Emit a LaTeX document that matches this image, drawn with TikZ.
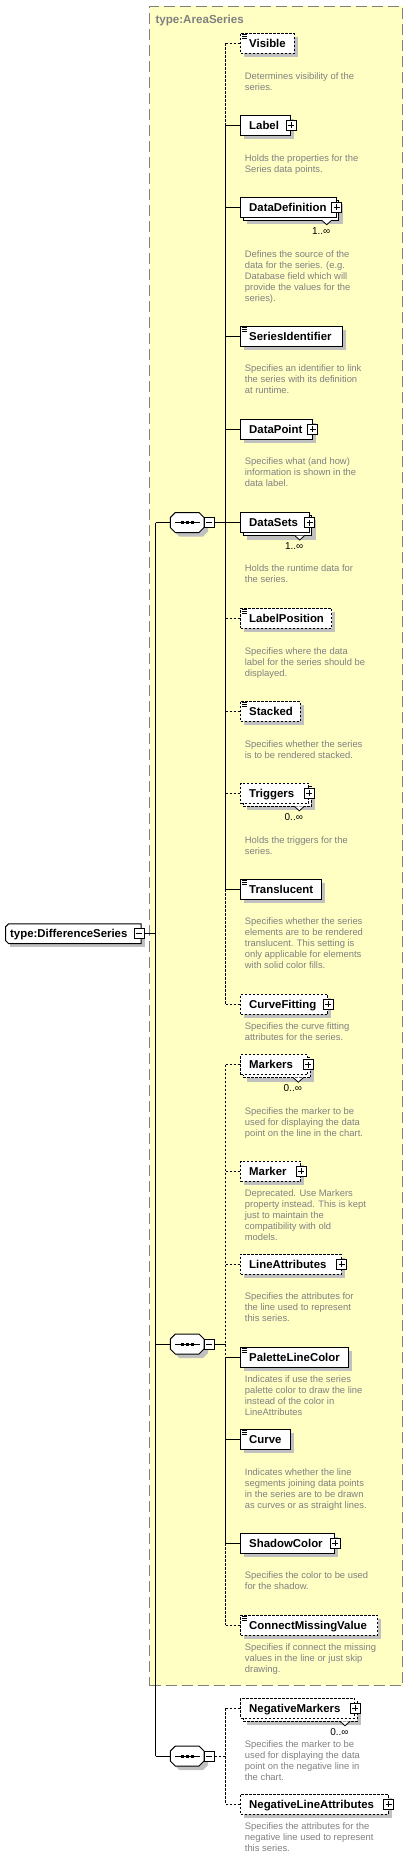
\documentclass[tikz,border=0pt]{standalone}
\usepackage{fontspec}
\setmainfont{Liberation Sans}
\pgfdeclarelayer{back}
\pgfdeclarelayer{bg}
\pgfsetlayers{back,bg,main}
\definecolor{yel}{HTML}{FFFFC4}
\definecolor{shd}{HTML}{C0C0C0}
\definecolor{dgray}{HTML}{808080}
\tikzset{
  dsh/.style={dash pattern=on 2.5pt off 1.5pt},
  sld/.style={},
  conn/.style={line width=1pt, draw=black},
  elem/.style={draw=black, fill=white, line width=1pt, minimum height=20pt, inner sep=0pt},
  eltext/.style={font=\fontsize{11.4}{13}\selectfont\bfseries, inner sep=0pt},
  titletext/.style={font=\fontsize{11.6}{13}\selectfont\bfseries, text=dgray, inner sep=0pt},
  desc/.style={font=\fontsize{9.4}{11}\selectfont, text=dgray, align=left, inner sep=0pt},
  mult/.style={font=\fontsize{10}{12}\selectfont, inner sep=0pt},
  pbox/.style={draw=black, fill=white, line width=0.8pt, minimum size=10pt, inner sep=0pt,
    path picture={\draw[line width=0.8pt] ([xshift=2pt]path picture bounding box.west) -- ([xshift=-2pt]path picture bounding box.east)
      ([yshift=-2pt]path picture bounding box.north) -- ([yshift=2pt]path picture bounding box.south);}},
  mbox/.style={draw=black, fill=white, line width=0.8pt, minimum size=10pt, inner sep=0pt,
    path picture={\draw[line width=0.8pt] ([xshift=2pt]path picture bounding box.west) -- ([xshift=-2pt]path picture bounding box.east);}},
}
% element box: name, yc, right x, text, border style
\newcommand\elbox[5]{%
  \begin{pgfonlayer}{bg}
    \fill[shd] (244,#2-6) rectangle (#3+4,#2+14);
  \end{pgfonlayer}
  \node[elem,#5,minimum width={#3-240},anchor=west] (#1) at (240,#2) {};
  \node[eltext,anchor=base west] (#1t) at (249,#2+4.05) {#4};
}
% multiple element: name, yc, right x, text, border style, multiplicity
\newcommand\elmulti[6]{%
  \begin{pgfonlayer}{bg}
    \fill[shd] (247,#2-3) rectangle (#3+7,#2+17);
    \draw[fill=white,line width=1pt,#5] (243,#2-7) rectangle (#3+3,#2+13);
    \draw[fill=white,line width=0.8pt] (#3-14,#2+13) -- (#3-9,#2+17.5) -- (#3-4,#2+13);
  \end{pgfonlayer}
  \node[elem,#5,minimum width={#3-240},anchor=west] (#1) at (240,#2) {};
  \node[eltext,anchor=base west] (#1t) at (249,#2+4.05) {#4};
  \node[mult,anchor=base] (#1n) at (#3-14.5,#2+27) {#6};
}
\newcommand\plusb[1]{\node[pbox] (#1p) at (#1.east) {};}
\newcommand\simp[1]{%
  \draw[line width=0.8pt] ([shift={(2,1.6)}]#1.north west) -- ++(5,0)
    ([shift={(2,3.6)}]#1.north west) -- ++(5,0)
    ([shift={(2,5.6)}]#1.north west) -- ++(5,0);}
\newcommand\dsc[3]{\node[desc,anchor=north west] (#1) at (244.7,#2-3.6) {#3};}
% sequence compositor: name, yc
\newcommand\seqc[2]{%
  \begin{pgfonlayer}{bg}
    \fill[shd] (179.3,#2-6) -- (203,#2-6) -- (208,#2-1) -- (208,#2+9) -- (203,#2+14) -- (179.3,#2+14) -- (174.3,#2+9) -- (174.3,#2-1) -- cycle;
  \end{pgfonlayer}
  \node[minimum width=33.7pt, minimum height=20pt, inner sep=0pt] (#1) at (187.15,#2) {};
  \draw[fill=white,line width=1pt] (175.3,#2-10) -- (199,#2-10) -- (204,#2-5) -- (204,#2+5) -- (199,#2+10) -- (175.3,#2+10) -- (170.3,#2+5) -- (170.3,#2-5) -- cycle;
  \draw[line width=1pt] (175,#2) -- (200,#2);
  \foreach \xx in {182.6,187.3,192} \fill (\xx-1.5,#2-1.5) rectangle (\xx+1.5,#2+1.5);
  \node[mbox] (#1m) at (209.3,#2) {};
}
\begin{document}
\begin{tikzpicture}[x=1pt,y=-1pt]
\useasboundingbox (0,0) rectangle (408,1869);
\begin{pgfonlayer}{back}
  \node[draw=dgray, fill=yel, line width=1pt, dash pattern=on 11pt off 5pt, minimum width=253pt, minimum height=1679.3pt, inner sep=0pt, anchor=north west] (area) at (149.3,5.7) {};
\end{pgfonlayer}
\node[titletext,anchor=base west] (ttl) at (155.3,23.1) {type:AreaSeries};

% root type
\begin{pgfonlayer}{bg}
  \fill[shd] (9.7,928) rectangle (145,947.3);
\end{pgfonlayer}
\node[minimum width=135.3pt, minimum height=19.3pt, inner sep=0pt] (dsr) at (73.35,933.65) {};
\draw[fill=white,line width=1pt] ([xshift=3pt]dsr.north west) -- (dsr.north east) -- (dsr.south east) -- ([xshift=3pt]dsr.south west) -- ([yshift=3pt]dsr.south west) -- ([yshift=-3pt]dsr.north west) -- cycle;
\node[eltext,anchor=base west] (dsrt) at (10,937.7) {type:DifferenceSeries};
\node[mbox] (dsrm) at (139.3,933.65) {};

% compositors
\seqc{s1}{522.5}
\seqc{s2}{1344}
\seqc{s3}{1756}

% elements
\elbox{vis}{43.3}{293.7}{Visible}{dsh} \simp{vis}
\dsc{visd}{75.7}{Determines visibility of the\\series.}
\elbox{lab}{125.3}{290.3}{Label}{sld} \plusb{lab}
\dsc{labd}{157.7}{Holds the properties for the\\Series data points.}
\elmulti{ddef}{207.2}{335.7}{DataDefinition}{sld}{1..∞} \plusb{ddef}
\dsc{ddefd}{253.7}{Defines the source of the\\data for the series. (e.g.\\Database field which will\\provide the values for the\\series).}
\elbox{sid}{336.3}{341.7}{SeriesIdentifier}{sld} \simp{sid}
\dsc{sidd}{368.3}{Specifies an identifier to link\\the series with its definition\\at runtime.}
\elbox{dpt}{429.3}{311.7}{DataPoint}{sld} \plusb{dpt}
\dsc{dptd}{461.3}{Specifies what (and how)\\information is shown in the\\data label.}
\elmulti{dsets}{522.5}{308.7}{DataSets}{sld}{1..∞} \plusb{dsets}
\dsc{dsetsd}{568.3}{Holds the runtime data for\\the series.}
\elbox{lpos}{618.3}{331}{LabelPosition}{dsh} \simp{lpos}
\dsc{lposd}{650.7}{Specifies where the data\\label for the series should be\\displayed.}
\elbox{stk}{711.3}{299.7}{Stacked}{dsh} \simp{stk}
\dsc{stkd}{743.7}{Specifies whether the series\\is to be rendered stacked.}
\elmulti{trg}{793.3}{308.3}{Triggers}{dsh}{0..∞} \plusb{trg}
\dsc{trgd}{839.7}{Holds the triggers for the\\series.}
\elbox{trl}{889.3}{321.3}{Translucent}{sld} \simp{trl}
\dsc{trld}{921.3}{Specifies whether the series\\elements are to be rendered\\translucent. This setting is\\only applicable for elements\\with solid color fills.}
\elbox{cfit}{1004.3}{327.3}{CurveFitting}{dsh} \plusb{cfit}
\dsc{cfitd}{1026}{Specifies the curve fitting\\attributes for the series.}
\elmulti{mks}{1064.7}{307.3}{Markers}{dsh}{0..∞} \plusb{mks}
\dsc{mksd}{1111}{Specifies the marker to be\\used for displaying the data\\point on the line in the chart.}
\elbox{mk}{1171.3}{300.3}{Marker}{dsh} \plusb{mk}
\dsc{mkd}{1192.7}{Deprecated. Use Markers\\property instead. This is kept\\just to maintain the\\compatibility with old\\models.}
\elbox{latt}{1264.3}{340.7}{LineAttributes}{dsh} \plusb{latt}
\dsc{lattd}{1296.3}{Specifies the attributes for\\the line used to represent\\this series.}
\elbox{plc}{1357.3}{347.7}{PaletteLineColor}{sld} \simp{plc}
\dsc{plcd}{1378.7}{Indicates if use the series\\palette color to draw the line\\instead of the color in\\LineAttributes}
\elbox{crv}{1439.3}{289.7}{Curve}{sld} \simp{crv}
\dsc{crvd}{1471.7}{Indicates whether the line\\segments joining data points\\in the series are to be drawn\\as curves or as straight lines.}
\elbox{shc}{1543.3}{334.3}{ShadowColor}{sld} \plusb{shc}
\dsc{shcd}{1575.3}{Specifies the color to be used\\for the shadow.}
\elbox{cmv}{1625.3}{377}{ConnectMissingValue}{dsh} \simp{cmv}
\dsc{cmvd}{1646.7}{Specifies if connect the missing\\values in the line or just skip\\drawing.}
\elmulti{nmk}{1708.3}{354}{NegativeMarkers}{dsh}{0..∞} \plusb{nmk}
\dsc{nmkd}{1743.7}{Specifies the marker to be\\used for displaying the data\\point on the negative line in\\the chart.}
\elbox{nla}{1804}{387.7}{NegativeLineAttributes}{dsh} \plusb{nla}
\dsc{nlad}{1825.7}{Specifies the attributes for the\\negative line used to represent\\this series.}

% connectors
\coordinate (trunk) at (155.7,0);
\coordinate (bus) at (225.7,0);
\draw[conn] (dsrm.east) -- (trunk |- dsrm.east);
\draw[conn] (trunk |- s1.west) -- (trunk |- s3.west);
\foreach \s in {s1,s2,s3} \draw[conn] (trunk |- \s.west) -- (\s.west);
\draw[conn] (s1m.east) -- (bus |- s1m.east);
\draw[conn] (s2m.east) -- (bus |- s2m.east);
\draw[conn,dsh] (s3m.east) -- (bus |- s3m.east);

\draw[conn,dsh] (bus |- vis.west) -- (bus |- lab.west);
\draw[conn] (bus |- lab.west) -- (bus |- trl.west);
\draw[conn,dsh] (bus |- trl.west) -- (bus |- cfit.west);
\draw[conn,dsh] (bus |- mks.west) -- (bus |- plc.west);
\draw[conn] (bus |- plc.west) -- (bus |- shc.west);
\draw[conn,dsh] (bus |- shc.west) -- (bus |- cmv.west);
\draw[conn,dsh] (bus |- nmk.west) -- (bus |- nla.west);

\foreach \e in {lab,ddef,sid,dpt,dsets,trl,plc,crv,shc}
  \draw[conn] (bus |- \e.west) -- (\e.west);
\foreach \e in {vis,lpos,stk,trg,cfit,mks,mk,latt,cmv,nmk,nla}
  \draw[conn,dsh] (bus |- \e.west) -- (\e.west);
\end{tikzpicture}
\end{document}
